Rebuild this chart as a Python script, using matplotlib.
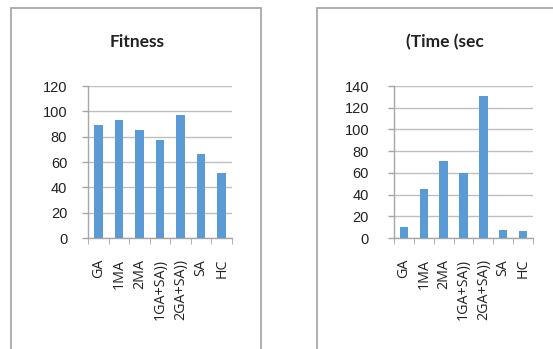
import matplotlib
matplotlib.use("Agg")
import matplotlib.pyplot as plt
from matplotlib.patches import Rectangle
import numpy as np

categories = ["GA", "1MA", "2MA", "1GA+SA))", "2GA+SA))", "SA", "HC"]
fitness = [89, 93.5, 85, 77, 97.5, 66.5, 51.5]
time_sec = [10, 45, 70.5, 60, 130.5, 7.5, 6.5]
fitness_ticks = [0, 20, 40, 60, 80, 100, 120]
time_ticks = [0, 20, 40, 60, 80, 100, 120, 140]

W, H = 553, 349
fig = plt.figure(figsize=(W / 100, H / 100), dpi=100)
fig.patch.set_facecolor("white")

# chart boxes
for (x0, x1) in [(11, 261), (316.5, 560)]:
    fig.patches.append(Rectangle((x0 / W, -0.1), (x1 - x0) / W, (H - 8) / H + 0.1,
                                 transform=fig.transFigure, fill=False,
                                 edgecolor="#A8A8A8", linewidth=1.3))

bar_color = "#5B9BD5"
grid_color = "#BFBFBF"
axis_color = "#A6A6A6"


def make(ax, vals, ticks, title, title_x, ypad):
    x = np.arange(len(categories))
    ax.bar(x, vals, width=0.42, color=bar_color, zorder=3)
    ax.set_xlim(-0.5, len(categories) - 0.5)
    ax.set_ylim(ticks[0], ticks[-1])
    ax.set_yticks(ticks)
    ax.set_yticklabels([str(t) for t in ticks], fontsize=10.5, family="Liberation Sans",
                       color="#222222")
    ax.tick_params(axis="y", length=4, width=1.0, color=axis_color, direction="out", pad=ypad)
    ax.yaxis.grid(True, color=grid_color, linewidth=1.0, zorder=0)
    ax.set_axisbelow(True)
    for s in ["top", "right"]:
        ax.spines[s].set_visible(False)
    ax.spines["left"].set_color(axis_color)
    ax.spines["bottom"].set_color(axis_color)
    ax.spines["left"].set_linewidth(1.0)
    ax.spines["bottom"].set_linewidth(1.0)
    ax.set_xticks(x)
    ax.set_xticklabels(categories, rotation=90, fontsize=10.3, family="Open Sans",
                       color="#222222", va="top")
    ax.tick_params(axis="x", which="major", length=0, pad=15)
    ax.set_xticks(np.arange(-0.5, len(categories) + 0.5, 1), minor=True)
    ax.tick_params(axis="x", which="minor", length=4.5, color=axis_color, direction="out")
    fig.text(title_x / W, 1 - 42 / H, title, ha="center", va="center",
             fontsize=12.5, fontweight="bold", family="Lato", color="#222222")


ax1 = fig.add_axes([88 / W, (H - 238) / H, 144 / W, 152 / H])
make(ax1, fitness, fitness_ticks, "Fitness", 137, 11)

ax2 = fig.add_axes([394 / W, (H - 238) / H, 139 / W, 152 / H])
make(ax2, time_sec, time_ticks, "(Time (sec", 445, 14)

fig.savefig("out.png", dpi=100, facecolor="white")
